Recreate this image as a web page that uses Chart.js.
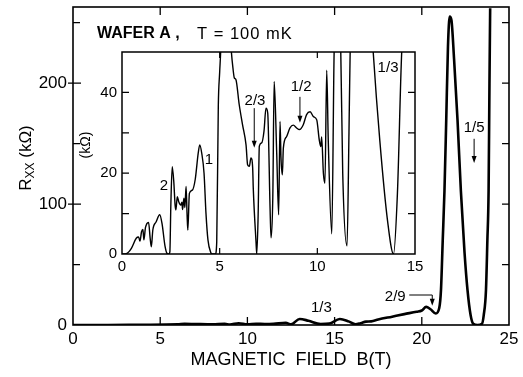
<!DOCTYPE html>
<html>
<head>
<meta charset="utf-8">
<title>Rxx vs B</title>
<script src="https://cdn.jsdelivr.net/npm/chart.js"></script>
<style>
  html, body { margin: 0; padding: 0; background: #fff; }
  #wrap { position: relative; width: 523px; height: 377px; }
  #wrap canvas { position: absolute; left: 0; top: 0; }
</style>
</head>
<body>
<div id="wrap">
  <canvas id="mainChart" width="523" height="377"></canvas>
  <canvas id="insetChart" width="523" height="377"></canvas>
</div>
<script>
// main trace, B in tesla, Rxx in kOhm
const mainField = [0, 2, 4, 6, 6.4, 7, 8, 8.7, 9.0, 9.5, 10, 10.5, 11, 11.5, 12.2, 12.5,
  13.0, 13.5, 14.2, 14.7, 15.3, 15.8, 16.2, 16.5, 16.8, 17.1, 17.5, 18.3, 19, 19.7,
  20.0, 20.25, 20.5, 20.8, 21.0, 21.1, 21.2, 21.3, 21.4, 21.5, 21.6, 21.7, 21.85,
  22.05, 22.24, 22.45, 22.62, 22.8, 22.95, 23.2, 23.45, 23.55, 23.68, 23.76, 23.83,
  23.88, 23.92];
const mainRxx = [0, 0, 0.2, 0.5, 1, 0.8, 0.5, 1, 0.4, 1.5, 0.6, 1, 0.8, 1, 1.8, 0.5,
  5, 3.5, 0.8, 1.2, 5, 3, 0.5, 1.5, 2.8, 3, 4.5, 6.9, 9, 11,
  12, 15, 13, 9.5, 14, 29, 70, 111, 169, 230, 255, 252, 220,
  169, 111, 60, 29, 8, 1, 0, 1, 8, 29, 70, 111,
  200, 262];

// inset trace, 0-15 T
const insetField = [0, 0.15, 0.3, 0.48, 0.73, 0.85, 0.92, 1.0, 1.07, 1.12, 1.2, 1.27,
  1.36, 1.44, 1.5, 1.58, 1.75, 1.93, 2.05, 2.2, 2.3, 2.4, 2.45, 2.5, 2.57, 2.65,
  2.72, 2.76, 2.83, 2.9, 3.0, 3.07, 3.1, 3.17, 3.22, 3.28, 3.33, 3.37, 3.45, 3.6,
  3.75, 3.9, 3.98, 4.08, 4.2, 4.3, 4.4, 4.55, 4.6, 4.78, 4.85, 4.93, 5.0, 5.05,
  5.1, 5.3, 5.5, 5.6, 5.68, 5.75, 5.83, 6.0, 6.17, 6.35, 6.43, 6.52, 6.6, 6.69,
  6.72, 6.86, 6.9, 6.97, 7.03, 7.15, 7.27, 7.37, 7.46, 7.58, 7.63, 7.72, 7.79,
  7.92, 8.02, 8.09, 8.14, 8.21, 8.26, 8.43, 8.6, 8.77, 8.94, 9.08, 9.28, 9.45,
  9.63, 9.8, 9.97, 10.1, 10.18, 10.22, 10.31, 10.39, 10.48, 10.56, 10.74, 10.86,
  10.95, 11.1, 11.2, 11.3, 11.52, 11.62, 11.68, 11.8, 12.5, 12.8, 12.86, 13.2,
  13.6, 13.9, 14.1, 14.32, 14.5, 15];
const insetRxx = [0, 0, 0.3, 1.4, 3.9, 4.2, 3.2, 5.5, 6.1, 3.5, 6.5, 7.5,
  7.8, 4.0, 1.8, 6.0, 8.0, 9.7, 7.5, 2.0, 0.2, 0, 0.5, 12, 21.6, 18,
  12, 10.9, 14.2, 13.0, 12.1, 12.8, 11.0, 13.8, 11.5, 16.7, 10.0, 5.9, 15, 15.8,
  18.5, 24.9, 27, 25, 20, 10, 3.5, 0.3, 0, 0, 3, 36.5, 45, 50,
  58, 62, 58, 50, 46, 43.6, 43.2, 37, 32, 27, 22.1, 21.7, 23.8, 21.3,
  16.3, 3.1, 0, 9.7, 26.7, 27.5, 30.4, 36.1, 34.9, 11.4, 4, 14, 42.7,
  25, 9.7, 32.8, 23.8, 19.6, 26.2, 29.1, 31.2, 31.9, 31.2, 30.8, 32, 34.5,
  35.2, 34.0, 33.2, 28.2, 26.6, 29, 20, 17.5, 45.5, 28, 5, 50,
  60, 60, 50, 20, 2, 30, 50, 60, 62, 55, 50, 28,
  8, 0, 15, 50, 60, 62];

const mainXLabels = [0, 5, 10, 15, 20, 25];
const mainYLabels = [0, 100, 200];
const mainYMinor = [50, 150, 250];
const insetXLabels = [0, 5, 10, 15];
const insetYLabels = [0, 20, 40];
const insetYMinor = [10, 30];

const FONT = '"Liberation Sans", Arial, Helvetica, sans-serif';

function toPoints(xs, ys) {
  return xs.map((b, i) => ({ x: b, y: ys[i] }));
}

// fixed axis sizes so the plot frames land where they should
function fixWidth(w) {
  return function (scale) {
    scale.width = w;
    scale.paddingTop = 0; scale.paddingBottom = 0;
    scale.paddingLeft = 0; scale.paddingRight = 0;
  };
}
function fixHeight(h) {
  return function (scale) {
    scale.height = h;
    scale.paddingTop = 0; scale.paddingBottom = 0;
    scale.paddingLeft = 0; scale.paddingRight = 0;
  };
}

function arrowDown(ctx, x, y0, y1) {
  ctx.beginPath();
  ctx.moveTo(x, y0);
  ctx.lineTo(x, y1 - 5);
  ctx.stroke();
  ctx.beginPath();
  ctx.moveTo(x - 2.5, y1 - 7);
  ctx.lineTo(x + 2.5, y1 - 7);
  ctx.lineTo(x, y1);
  ctx.closePath();
  ctx.fill();
}

// frame, inward ticks, titles and annotations of the big panel
const mainDecor = {
  id: 'mainDecor',
  afterDraw(chart) {
    const { ctx, chartArea: a, scales: { x, y } } = chart;
    ctx.save();
    ctx.strokeStyle = '#000';
    ctx.fillStyle = '#000';
    ctx.lineWidth = 1.6;
    ctx.strokeRect(a.left, a.top, a.right - a.left, a.bottom - a.top);

    ctx.lineWidth = 1.3;
    ctx.beginPath();
    mainXLabels.slice(1, -1).forEach(v => {
      const px = x.getPixelForValue(v);
      ctx.moveTo(px, a.bottom); ctx.lineTo(px, a.bottom - 8);
      ctx.moveTo(px, a.top); ctx.lineTo(px, a.top + 8);
    });
    mainYLabels.slice(1).forEach(v => {
      const py = y.getPixelForValue(v);
      ctx.moveTo(a.left - 5, py); ctx.lineTo(a.left + 8, py);
      ctx.moveTo(a.right, py); ctx.lineTo(a.right - 7, py);
    });
    mainYMinor.forEach(v => {
      const py = y.getPixelForValue(v);
      ctx.moveTo(a.left, py); ctx.lineTo(a.left + 7, py);
      ctx.moveTo(a.right, py); ctx.lineTo(a.right - 7, py);
    });
    ctx.stroke();

    // axis titles
    ctx.textBaseline = 'middle';
    ctx.textAlign = 'center';
    ctx.font = '18px ' + FONT;
    ctx.fillText('MAGNETIC  FIELD  B(T)', 291, 360);

    ctx.save();
    ctx.translate(25, 158);
    ctx.rotate(-Math.PI / 2);
    ctx.textAlign = 'left';
    ctx.textBaseline = 'alphabetic';
    const big = '17px ' + FONT, small = '12px ' + FONT;
    ctx.font = big; const wR = ctx.measureText('R').width;
    ctx.font = small; const wX = ctx.measureText('XX').width;
    ctx.font = big; const wU = ctx.measureText(' (kΩ)').width;
    let cx = -(wR + wX + wU) / 2;
    ctx.font = big; ctx.fillText('R', cx, 6); cx += wR;
    ctx.font = small; ctx.fillText('XX', cx, 9); cx += wX;
    ctx.font = big; ctx.fillText(' (kΩ)', cx, 6);
    ctx.restore();

    // sample label
    ctx.textAlign = 'left';
    ctx.font = 'bold 16px ' + FONT;
    ctx.fillText('WAFER A ,', 97, 34);
    ctx.font = '16.5px ' + FONT;
    ctx.letterSpacing = '1px';
    ctx.fillText('T = 100 mK', 197, 34);
    ctx.letterSpacing = '0px';

    // filling factor marks
    ctx.textAlign = 'center';
    ctx.font = '15px ' + FONT;
    ctx.lineWidth = 1;
    ctx.fillText('1/3', x.getPixelForValue(14.24), y.getPixelForValue(14));
    ctx.fillText('2/9', x.getPixelForValue(18.48), y.getPixelForValue(23));
    const l0 = x.getPixelForValue(19.28), l1 = x.getPixelForValue(20.6);
    const ly = y.getPixelForValue(24.8);
    ctx.beginPath(); ctx.moveTo(l0, ly); ctx.lineTo(l1, ly); ctx.stroke();
    arrowDown(ctx, l1, ly, y.getPixelForValue(16));
    ctx.fillText('1/5', x.getPixelForValue(23.0), y.getPixelForValue(163));
    arrowDown(ctx, x.getPixelForValue(23.0), y.getPixelForValue(154), y.getPixelForValue(134));
    ctx.restore();
  }
};

const insetDecor = {
  id: 'insetDecor',
  afterDraw(chart) {
    const { ctx, chartArea: a, scales: { x, y } } = chart;
    ctx.save();
    ctx.strokeStyle = '#000';
    ctx.fillStyle = '#000';
    ctx.lineWidth = 1.5;
    ctx.strokeRect(a.left, a.top, a.right - a.left, a.bottom - a.top);

    ctx.lineWidth = 1.2;
    ctx.beginPath();
    insetXLabels.slice(1, -1).forEach(v => {
      const px = x.getPixelForValue(v);
      ctx.moveTo(px, a.bottom); ctx.lineTo(px, a.bottom - 6);
      ctx.moveTo(px, a.top); ctx.lineTo(px, a.top + 6);
    });
    insetYLabels.slice(1).concat(insetYMinor).forEach(v => {
      const py = y.getPixelForValue(v);
      ctx.moveTo(a.left, py); ctx.lineTo(a.left + 7, py);
      ctx.moveTo(a.right, py); ctx.lineTo(a.right - 7, py);
    });
    ctx.stroke();

    ctx.save();
    ctx.translate(86, 145);
    ctx.rotate(-Math.PI / 2);
    ctx.textAlign = 'center';
    ctx.textBaseline = 'middle';
    ctx.font = '14px ' + FONT;
    ctx.fillText('(kΩ)', 0, 0);
    ctx.restore();

    ctx.textAlign = 'center';
    ctx.textBaseline = 'middle';
    ctx.font = '15px ' + FONT;
    ctx.lineWidth = 1;
    ctx.fillText('2', x.getPixelForValue(2.15), y.getPixelForValue(16.8));
    ctx.fillText('1', x.getPixelForValue(4.45), y.getPixelForValue(23.3));
    ctx.fillText('2/3', x.getPixelForValue(6.81), y.getPixelForValue(37.9));
    arrowDown(ctx, x.getPixelForValue(6.77), y.getPixelForValue(36.1), y.getPixelForValue(26.3));
    ctx.fillText('1/2', x.getPixelForValue(9.17), y.getPixelForValue(41.3));
    arrowDown(ctx, x.getPixelForValue(9.11), y.getPixelForValue(38.9), y.getPixelForValue(32.5));
    ctx.fillText('1/3', x.getPixelForValue(13.62), y.getPixelForValue(46.0));
    ctx.restore();
  }
};

new Chart(document.getElementById('mainChart'), {
  type: 'line',
  data: {
    datasets: [{
      data: toPoints(mainField, mainRxx),
      borderColor: '#000',
      borderWidth: 2.6,
      pointRadius: 0,
      cubicInterpolationMode: 'monotone',
      fill: false
    }]
  },
  options: {
    responsive: false,
    animation: false,
    events: [],
    layout: { padding: { top: 7, right: 14, bottom: 0, left: 0 } },
    plugins: { legend: { display: false }, tooltip: { enabled: false } },
    scales: {
      x: {
        type: 'linear', min: 0, max: 25,
        grid: { display: false, drawTicks: false },
        border: { display: false },
        afterFit: fixHeight(52),
        ticks: {
          stepSize: 5, autoSkip: false, maxRotation: 0, padding: 4,
          color: '#000', font: { family: FONT, size: 17 },
          callback: v => mainXLabels.includes(v) ? String(v) : ''
        }
      },
      y: {
        type: 'linear', min: 0, max: 263,
        grid: { display: false, drawTicks: false },
        border: { display: false },
        afterFit: fixWidth(73),
        ticks: {
          stepSize: 50, autoSkip: false, padding: 6,
          color: '#000', font: { family: FONT, size: 17 },
          callback: v => mainYLabels.includes(v) ? String(v) : ''
        }
      }
    }
  },
  plugins: [mainDecor]
});

new Chart(document.getElementById('insetChart'), {
  type: 'line',
  data: {
    datasets: [{
      data: toPoints(insetField, insetRxx),
      borderColor: '#000',
      borderWidth: 1.4,
      pointRadius: 0,
      cubicInterpolationMode: 'monotone',
      fill: false
    }]
  },
  options: {
    responsive: false,
    animation: false,
    events: [],
    layout: { padding: { top: 52, right: 108, bottom: 0, left: 0 } },
    plugins: { legend: { display: false }, tooltip: { enabled: false } },
    scales: {
      x: {
        type: 'linear', min: 0, max: 15,
        grid: { display: false, drawTicks: false },
        border: { display: false },
        afterFit: fixHeight(123),
        ticks: {
          stepSize: 5, autoSkip: false, maxRotation: 0, padding: 4,
          color: '#000', font: { family: FONT, size: 15 },
          callback: v => insetXLabels.includes(v) ? String(v) : ''
        }
      },
      y: {
        type: 'linear', min: 0, max: 50,
        grid: { display: false, drawTicks: false },
        border: { display: false },
        afterFit: fixWidth(122),
        ticks: {
          stepSize: 10, autoSkip: false, padding: 5,
          color: '#000', font: { family: FONT, size: 15 },
          callback: v => insetYLabels.includes(v) ? String(v) : ''
        }
      }
    }
  },
  plugins: [insetDecor]
});
</script>
</body>
</html>
